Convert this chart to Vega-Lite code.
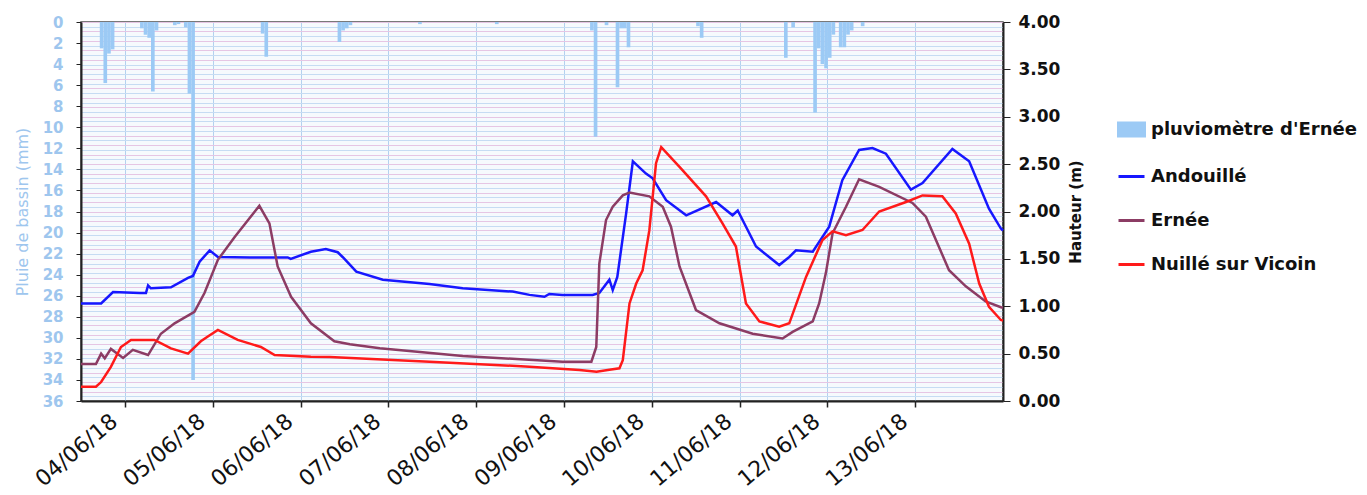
{
  "$schema": "https://vega.github.io/schema/vega-lite/v6.json",
  "width": 922,
  "height": 379,
  "autosize": {"type": "none"},
  "padding": {"left": 81, "top": 22, "right": 364, "bottom": 94},
  "background": "white",
  "config": {
    "view": {"stroke": "#4d4d4d", "strokeWidth": 1.5, "fill": "#f6fafd"},
    "font": "DejaVu Sans"
  },
  "datasets": {
    "rain": [
      {"t": "2018-06-03T17:00", "mm": 2.5}, {"t": "2018-06-03T18:00", "mm": 5.8}, {"t": "2018-06-03T19:00", "mm": 3.0}, {"t": "2018-06-03T20:00", "mm": 2.6},
      {"t": "2018-06-04T04:00", "mm": 0.6}, {"t": "2018-06-04T05:00", "mm": 1.2}, {"t": "2018-06-04T06:00", "mm": 1.5}, {"t": "2018-06-04T07:00", "mm": 6.6}, {"t": "2018-06-04T08:00", "mm": 0.8},
      {"t": "2018-06-04T13:00", "mm": 0.3}, {"t": "2018-06-04T14:00", "mm": 0.2},
      {"t": "2018-06-04T16:00", "mm": 0.5}, {"t": "2018-06-04T17:00", "mm": 6.8}, {"t": "2018-06-04T18:00", "mm": 34.0},
      {"t": "2018-06-05T13:00", "mm": 1.1}, {"t": "2018-06-05T14:00", "mm": 3.3},
      {"t": "2018-06-06T10:00", "mm": 1.9}, {"t": "2018-06-06T11:00", "mm": 0.8}, {"t": "2018-06-06T12:00", "mm": 0.6}, {"t": "2018-06-06T13:00", "mm": 0.3},
      {"t": "2018-06-07T08:00", "mm": 0.2}, {"t": "2018-06-08T05:00", "mm": 0.2},
      {"t": "2018-06-09T07:00", "mm": 0.8}, {"t": "2018-06-09T08:00", "mm": 10.9}, {"t": "2018-06-09T11:00", "mm": 0.3}, {"t": "2018-06-09T14:00", "mm": 6.2}, {"t": "2018-06-09T15:00", "mm": 0.6}, {"t": "2018-06-09T16:00", "mm": 0.6}, {"t": "2018-06-09T17:00", "mm": 2.4},
      {"t": "2018-06-10T12:00", "mm": 0.4}, {"t": "2018-06-10T13:00", "mm": 1.5},
      {"t": "2018-06-11T12:00", "mm": 3.4}, {"t": "2018-06-11T14:00", "mm": 0.5},
      {"t": "2018-06-11T20:00", "mm": 8.6}, {"t": "2018-06-11T21:00", "mm": 2.5}, {"t": "2018-06-11T22:00", "mm": 4.0}, {"t": "2018-06-11T23:00", "mm": 4.4}, {"t": "2018-06-12T00:00", "mm": 3.4}, {"t": "2018-06-12T01:00", "mm": 1.2},
      {"t": "2018-06-12T03:00", "mm": 2.4}, {"t": "2018-06-12T04:00", "mm": 2.4}, {"t": "2018-06-12T05:00", "mm": 1.2}, {"t": "2018-06-12T06:00", "mm": 0.8}, {"t": "2018-06-12T09:00", "mm": 0.4}
    ],
    "levels": [
      {"s": "Andouillé", "t": "2018-06-03T12:00", "h": 1.03},
      {"s": "Andouillé", "t": "2018-06-03T17:30", "h": 1.03},
      {"s": "Andouillé", "t": "2018-06-03T20:45", "h": 1.15},
      {"s": "Andouillé", "t": "2018-06-04T04:05", "h": 1.14},
      {"s": "Andouillé", "t": "2018-06-04T05:45", "h": 1.14},
      {"s": "Andouillé", "t": "2018-06-04T06:20", "h": 1.22},
      {"s": "Andouillé", "t": "2018-06-04T07:05", "h": 1.19},
      {"s": "Andouillé", "t": "2018-06-04T12:35", "h": 1.20},
      {"s": "Andouillé", "t": "2018-06-04T17:15", "h": 1.30},
      {"s": "Andouillé", "t": "2018-06-04T18:35", "h": 1.32},
      {"s": "Andouillé", "t": "2018-06-04T20:25", "h": 1.47},
      {"s": "Andouillé", "t": "2018-06-04T23:10", "h": 1.59},
      {"s": "Andouillé", "t": "2018-06-05T01:25", "h": 1.52},
      {"s": "Andouillé", "t": "2018-06-05T10:10", "h": 1.515},
      {"s": "Andouillé", "t": "2018-06-05T20:30", "h": 1.515},
      {"s": "Andouillé", "t": "2018-06-05T21:20", "h": 1.50},
      {"s": "Andouillé", "t": "2018-06-06T02:50", "h": 1.575},
      {"s": "Andouillé", "t": "2018-06-06T06:55", "h": 1.605},
      {"s": "Andouillé", "t": "2018-06-06T10:10", "h": 1.57},
      {"s": "Andouillé", "t": "2018-06-06T11:30", "h": 1.52},
      {"s": "Andouillé", "t": "2018-06-06T15:15", "h": 1.365},
      {"s": "Andouillé", "t": "2018-06-06T22:30", "h": 1.28},
      {"s": "Andouillé", "t": "2018-06-07T11:15", "h": 1.235},
      {"s": "Andouillé", "t": "2018-06-07T20:20", "h": 1.19},
      {"s": "Andouillé", "t": "2018-06-08T10:00", "h": 1.155},
      {"s": "Andouillé", "t": "2018-06-08T14:35", "h": 1.12},
      {"s": "Andouillé", "t": "2018-06-08T18:40", "h": 1.10},
      {"s": "Andouillé", "t": "2018-06-08T20:00", "h": 1.13},
      {"s": "Andouillé", "t": "2018-06-08T23:35", "h": 1.12},
      {"s": "Andouillé", "t": "2018-06-09T07:50", "h": 1.12},
      {"s": "Andouillé", "t": "2018-06-09T09:40", "h": 1.14},
      {"s": "Andouillé", "t": "2018-06-09T12:25", "h": 1.28},
      {"s": "Andouillé", "t": "2018-06-09T13:20", "h": 1.17},
      {"s": "Andouillé", "t": "2018-06-09T14:35", "h": 1.31},
      {"s": "Andouillé", "t": "2018-06-09T17:00", "h": 1.98},
      {"s": "Andouillé", "t": "2018-06-09T18:50", "h": 2.53},
      {"s": "Andouillé", "t": "2018-06-09T22:25", "h": 2.40},
      {"s": "Andouillé", "t": "2018-06-10T00:15", "h": 2.35},
      {"s": "Andouillé", "t": "2018-06-10T03:55", "h": 2.12},
      {"s": "Andouillé", "t": "2018-06-10T09:25", "h": 1.96},
      {"s": "Andouillé", "t": "2018-06-10T17:35", "h": 2.10},
      {"s": "Andouillé", "t": "2018-06-10T22:05", "h": 1.96},
      {"s": "Andouillé", "t": "2018-06-10T23:30", "h": 2.01},
      {"s": "Andouillé", "t": "2018-06-11T04:30", "h": 1.63},
      {"s": "Andouillé", "t": "2018-06-11T10:50", "h": 1.435},
      {"s": "Andouillé", "t": "2018-06-11T13:35", "h": 1.52},
      {"s": "Andouillé", "t": "2018-06-11T15:25", "h": 1.59},
      {"s": "Andouillé", "t": "2018-06-11T20:00", "h": 1.575},
      {"s": "Andouillé", "t": "2018-06-12T00:30", "h": 1.84},
      {"s": "Andouillé", "t": "2018-06-12T04:05", "h": 2.33},
      {"s": "Andouillé", "t": "2018-06-12T08:40", "h": 2.65},
      {"s": "Andouillé", "t": "2018-06-12T12:20", "h": 2.67},
      {"s": "Andouillé", "t": "2018-06-12T16:00", "h": 2.61},
      {"s": "Andouillé", "t": "2018-06-12T22:50", "h": 2.23},
      {"s": "Andouillé", "t": "2018-06-13T02:00", "h": 2.30},
      {"s": "Andouillé", "t": "2018-06-13T10:10", "h": 2.66},
      {"s": "Andouillé", "t": "2018-06-13T14:45", "h": 2.53},
      {"s": "Andouillé", "t": "2018-06-13T20:10", "h": 2.03},
      {"s": "Andouillé", "t": "2018-06-13T23:25", "h": 1.82},
      {"s": "Andouillé", "t": "2018-06-14T00:00", "h": 1.80},
      {"s": "Ernée", "t": "2018-06-03T12:00", "h": 0.39},
      {"s": "Ernée", "t": "2018-06-03T16:05", "h": 0.39},
      {"s": "Ernée", "t": "2018-06-03T17:30", "h": 0.50},
      {"s": "Ernée", "t": "2018-06-03T18:30", "h": 0.45},
      {"s": "Ernée", "t": "2018-06-03T20:10", "h": 0.55},
      {"s": "Ernée", "t": "2018-06-03T23:30", "h": 0.455},
      {"s": "Ernée", "t": "2018-06-04T02:10", "h": 0.54},
      {"s": "Ernée", "t": "2018-06-04T06:20", "h": 0.485},
      {"s": "Ernée", "t": "2018-06-04T09:50", "h": 0.71},
      {"s": "Ernée", "t": "2018-06-04T13:35", "h": 0.82},
      {"s": "Ernée", "t": "2018-06-04T19:00", "h": 0.94},
      {"s": "Ernée", "t": "2018-06-04T21:45", "h": 1.14},
      {"s": "Ernée", "t": "2018-06-05T01:25", "h": 1.49},
      {"s": "Ernée", "t": "2018-06-05T06:00", "h": 1.73},
      {"s": "Ernée", "t": "2018-06-05T12:45", "h": 2.06},
      {"s": "Ernée", "t": "2018-06-05T15:30", "h": 1.875},
      {"s": "Ernée", "t": "2018-06-05T17:45", "h": 1.42},
      {"s": "Ernée", "t": "2018-06-05T21:25", "h": 1.10},
      {"s": "Ernée", "t": "2018-06-06T02:50", "h": 0.82},
      {"s": "Ernée", "t": "2018-06-06T09:15", "h": 0.63},
      {"s": "Ernée", "t": "2018-06-06T13:30", "h": 0.60},
      {"s": "Ernée", "t": "2018-06-06T21:40", "h": 0.556},
      {"s": "Ernée", "t": "2018-06-07T20:20", "h": 0.475},
      {"s": "Ernée", "t": "2018-06-08T23:35", "h": 0.415},
      {"s": "Ernée", "t": "2018-06-09T07:30", "h": 0.415},
      {"s": "Ernée", "t": "2018-06-09T08:50", "h": 0.57},
      {"s": "Ernée", "t": "2018-06-09T09:40", "h": 1.45},
      {"s": "Ernée", "t": "2018-06-09T11:30", "h": 1.91},
      {"s": "Ernée", "t": "2018-06-09T13:20", "h": 2.05},
      {"s": "Ernée", "t": "2018-06-09T16:05", "h": 2.17},
      {"s": "Ernée", "t": "2018-06-09T17:55", "h": 2.20},
      {"s": "Ernée", "t": "2018-06-09T23:20", "h": 2.16},
      {"s": "Ernée", "t": "2018-06-10T03:00", "h": 2.05},
      {"s": "Ernée", "t": "2018-06-10T05:15", "h": 1.84},
      {"s": "Ernée", "t": "2018-06-10T07:35", "h": 1.42},
      {"s": "Ernée", "t": "2018-06-10T12:05", "h": 0.96},
      {"s": "Ernée", "t": "2018-06-10T18:30", "h": 0.82},
      {"s": "Ernée", "t": "2018-06-11T03:35", "h": 0.71},
      {"s": "Ernée", "t": "2018-06-11T11:45", "h": 0.66},
      {"s": "Ernée", "t": "2018-06-11T14:30", "h": 0.73},
      {"s": "Ernée", "t": "2018-06-11T20:00", "h": 0.84},
      {"s": "Ernée", "t": "2018-06-11T21:45", "h": 1.03},
      {"s": "Ernée", "t": "2018-06-11T23:35", "h": 1.35},
      {"s": "Ernée", "t": "2018-06-12T01:25", "h": 1.77},
      {"s": "Ernée", "t": "2018-06-12T05:05", "h": 2.05},
      {"s": "Ernée", "t": "2018-06-12T08:40", "h": 2.34},
      {"s": "Ernée", "t": "2018-06-12T14:10", "h": 2.26},
      {"s": "Ernée", "t": "2018-06-12T23:15", "h": 2.09},
      {"s": "Ernée", "t": "2018-06-13T02:55", "h": 1.945},
      {"s": "Ernée", "t": "2018-06-13T09:15", "h": 1.38},
      {"s": "Ernée", "t": "2018-06-13T13:50", "h": 1.21},
      {"s": "Ernée", "t": "2018-06-13T19:15", "h": 1.05},
      {"s": "Ernée", "t": "2018-06-13T23:25", "h": 0.99},
      {"s": "Ernée", "t": "2018-06-14T00:00", "h": 0.985},
      {"s": "Nuillé sur Vicoin", "t": "2018-06-03T12:00", "h": 0.15},
      {"s": "Nuillé sur Vicoin", "t": "2018-06-03T16:05", "h": 0.15},
      {"s": "Nuillé sur Vicoin", "t": "2018-06-03T17:30", "h": 0.20},
      {"s": "Nuillé sur Vicoin", "t": "2018-06-03T20:10", "h": 0.36},
      {"s": "Nuillé sur Vicoin", "t": "2018-06-03T22:55", "h": 0.57},
      {"s": "Nuillé sur Vicoin", "t": "2018-06-04T01:40", "h": 0.645},
      {"s": "Nuillé sur Vicoin", "t": "2018-06-04T08:05", "h": 0.645},
      {"s": "Nuillé sur Vicoin", "t": "2018-06-04T12:35", "h": 0.556},
      {"s": "Nuillé sur Vicoin", "t": "2018-06-04T17:15", "h": 0.50},
      {"s": "Nuillé sur Vicoin", "t": "2018-06-04T20:45", "h": 0.63},
      {"s": "Nuillé sur Vicoin", "t": "2018-06-04T22:40", "h": 0.68},
      {"s": "Nuillé sur Vicoin", "t": "2018-06-05T01:25", "h": 0.75},
      {"s": "Nuillé sur Vicoin", "t": "2018-06-05T06:50", "h": 0.645},
      {"s": "Nuillé sur Vicoin", "t": "2018-06-05T13:10", "h": 0.57},
      {"s": "Nuillé sur Vicoin", "t": "2018-06-05T16:55", "h": 0.485},
      {"s": "Nuillé sur Vicoin", "t": "2018-06-06T02:50", "h": 0.468},
      {"s": "Nuillé sur Vicoin", "t": "2018-06-06T08:00", "h": 0.465},
      {"s": "Nuillé sur Vicoin", "t": "2018-06-07T11:15", "h": 0.415},
      {"s": "Nuillé sur Vicoin", "t": "2018-06-08T14:35", "h": 0.362},
      {"s": "Nuillé sur Vicoin", "t": "2018-06-09T04:15", "h": 0.327},
      {"s": "Nuillé sur Vicoin", "t": "2018-06-09T08:55", "h": 0.31},
      {"s": "Nuillé sur Vicoin", "t": "2018-06-09T12:25", "h": 0.33},
      {"s": "Nuillé sur Vicoin", "t": "2018-06-09T15:10", "h": 0.345},
      {"s": "Nuillé sur Vicoin", "t": "2018-06-09T16:05", "h": 0.43},
      {"s": "Nuillé sur Vicoin", "t": "2018-06-09T17:55", "h": 1.03},
      {"s": "Nuillé sur Vicoin", "t": "2018-06-09T19:45", "h": 1.24},
      {"s": "Nuillé sur Vicoin", "t": "2018-06-09T21:30", "h": 1.38},
      {"s": "Nuillé sur Vicoin", "t": "2018-06-09T23:20", "h": 1.80},
      {"s": "Nuillé sur Vicoin", "t": "2018-06-10T01:10", "h": 2.51},
      {"s": "Nuillé sur Vicoin", "t": "2018-06-10T02:35", "h": 2.68},
      {"s": "Nuillé sur Vicoin", "t": "2018-06-10T07:35", "h": 2.47},
      {"s": "Nuillé sur Vicoin", "t": "2018-06-10T14:50", "h": 2.16},
      {"s": "Nuillé sur Vicoin", "t": "2018-06-10T19:20", "h": 1.875},
      {"s": "Nuillé sur Vicoin", "t": "2018-06-10T23:00", "h": 1.63},
      {"s": "Nuillé sur Vicoin", "t": "2018-06-11T01:45", "h": 1.03},
      {"s": "Nuillé sur Vicoin", "t": "2018-06-11T05:25", "h": 0.84},
      {"s": "Nuillé sur Vicoin", "t": "2018-06-11T10:50", "h": 0.785},
      {"s": "Nuillé sur Vicoin", "t": "2018-06-11T13:35", "h": 0.82},
      {"s": "Nuillé sur Vicoin", "t": "2018-06-11T18:10", "h": 1.31},
      {"s": "Nuillé sur Vicoin", "t": "2018-06-11T22:40", "h": 1.70},
      {"s": "Nuillé sur Vicoin", "t": "2018-06-12T01:25", "h": 1.79},
      {"s": "Nuillé sur Vicoin", "t": "2018-06-12T05:05", "h": 1.75},
      {"s": "Nuillé sur Vicoin", "t": "2018-06-12T09:35", "h": 1.805},
      {"s": "Nuillé sur Vicoin", "t": "2018-06-12T14:10", "h": 2.00},
      {"s": "Nuillé sur Vicoin", "t": "2018-06-12T21:30", "h": 2.10},
      {"s": "Nuillé sur Vicoin", "t": "2018-06-13T02:00", "h": 2.17},
      {"s": "Nuillé sur Vicoin", "t": "2018-06-13T07:25", "h": 2.16},
      {"s": "Nuillé sur Vicoin", "t": "2018-06-13T11:05", "h": 1.98},
      {"s": "Nuillé sur Vicoin", "t": "2018-06-13T14:45", "h": 1.66},
      {"s": "Nuillé sur Vicoin", "t": "2018-06-13T17:30", "h": 1.24},
      {"s": "Nuillé sur Vicoin", "t": "2018-06-13T20:10", "h": 0.995},
      {"s": "Nuillé sur Vicoin", "t": "2018-06-13T23:25", "h": 0.855},
      {"s": "Nuillé sur Vicoin", "t": "2018-06-14T00:00", "h": 0.85}
    ]
  },
  "layer": [
    {
      "data": {"name": "rain"},
      "mark": {"type": "rect"},
      "encoding": {
        "x": {
          "field": "t", "type": "temporal", "timeUnit": "yearmonthdatehours",
          "scale": {"domain": [{"year": 2018, "month": 6, "date": 3, "hours": 12}, {"year": 2018, "month": 6, "date": 14}]},
          "axis": {
            "title": null,
            "values": [
              {"year": 2018, "month": 6, "date": 4}, {"year": 2018, "month": 6, "date": 5}, {"year": 2018, "month": 6, "date": 6},
              {"year": 2018, "month": 6, "date": 7}, {"year": 2018, "month": 6, "date": 8}, {"year": 2018, "month": 6, "date": 9},
              {"year": 2018, "month": 6, "date": 10}, {"year": 2018, "month": 6, "date": 11}, {"year": 2018, "month": 6, "date": 12},
              {"year": 2018, "month": 6, "date": 13}
            ],
            "format": "%d/%m/%y",
            "labelAngle": -40,
            "labelAlign": "right",
            "labelBaseline": "middle",
            "labelFont": "DejaVu Sans",
            "labelFontSize": 22,
            "labelColor": "#111111",
            "labelPadding": 11,
            "labelOffset": -11,
            "labelOverlap": false,
            "tickColor": "#222222",
            "tickSize": 6,
            "tickWidth": 1.5,
            "domainColor": "#222222",
            "domainWidth": 2,
            "grid": true,
            "gridColor": "#b3d1ef",
            "gridWidth": 1
          }
        },
        "y": {
          "field": "mm", "type": "quantitative",
          "scale": {"domain": [0, 36], "reverse": true, "nice": false, "zero": true},
          "axis": {
            "orient": "left",
            "title": "Pluie de bassin (mm)",
            "titleFont": "DejaVu Sans",
            "titleFontSize": 16,
            "titleFontWeight": "normal",
            "titleColor": "#9ec6ee",
            "titlePadding": 12,
            "values": [0, 2, 4, 6, 8, 10, 12, 14, 16, 18, 20, 22, 24, 26, 28, 30, 32, 34, 36],
            "labelFont": "DejaVu Sans",
            "labelFontSize": 15,
            "labelFontWeight": "bold",
            "labelColor": "#9ec6ee",
            "labelPadding": 13,
            "labelOverlap": false,
            "tickColor": "#222222",
            "tickSize": 5,
            "domainColor": "#222222",
            "domainWidth": 2,
            "grid": false
          }
        },
        "y2": {"datum": 0},
        "color": {
          "datum": "pluviomètre d'Ernée", "type": "nominal", "title": null,
          "scale": {
            "domain": ["pluviomètre d'Ernée", "Andouillé", "Ernée", "Nuillé sur Vicoin"],
            "range": ["#9ccaf5", "#1717ff", "#8c3c64", "#ff1a1a"]
          },
          "legend": {
            "title": null,
            "orient": "none",
            "legendX": 1036,
            "legendY": 93,
            "padding": 0,
            "rowPadding": 20,
            "labelFont": "DejaVu Sans",
            "labelFontWeight": "bold",
            "labelFontSize": 18,
            "labelColor": "#111111",
            "labelOffset": 5,
            "labelLimit": 400,
            "symbolSize": 676,
            "symbolType": "stroke",
            "symbolStrokeWidth": 3,
            "encode": {
              "symbols": {
                "update": {
                  "shape": {"signal": "datum.index === 0 ? 'M-1,-0.5H1V0.5H-1Z' : 'M-1,0H1'"},
                  "fill": {"signal": "datum.index === 0 ? '#9ccaf5' : 'transparent'"},
                  "stroke": {"signal": "datum.index === 0 ? 'transparent' : (datum.index === 1 ? '#1717ff' : (datum.index === 2 ? '#8c3c64' : '#ff1a1a'))"},
                  "strokeWidth": {"value": 3},
                  "opacity": {"value": 1}
                }
              }
            }
          }
        }
      }
    },
    {
      "data": {"name": "levels"},
      "mark": {"type": "line", "strokeWidth": 2.5},
      "encoding": {
        "x": {"field": "t", "type": "temporal"},
        "y": {
          "field": "h", "type": "quantitative",
          "scale": {"domain": [0, 4], "nice": false},
          "axis": {
            "orient": "right",
            "title": "Hauteur (m)",
            "titleFont": "DejaVu Sans",
            "titleFontSize": 15,
            "titleFontWeight": "bold",
            "titleColor": "#111111",
            "titleAngle": 270,
            "titlePadding": 24,
            "values": [0, 0.05, 0.1, 0.15, 0.2, 0.25, 0.3, 0.35, 0.4, 0.45, 0.5, 0.55, 0.6, 0.65, 0.7, 0.75, 0.8, 0.85, 0.9, 0.95, 1, 1.05, 1.1, 1.15, 1.2, 1.25, 1.3, 1.35, 1.4, 1.45, 1.5, 1.55, 1.6, 1.65, 1.7, 1.75, 1.8, 1.85, 1.9, 1.95, 2, 2.05, 2.1, 2.15, 2.2, 2.25, 2.3, 2.35, 2.4, 2.45, 2.5, 2.55, 2.6, 2.65, 2.7, 2.75, 2.8, 2.85, 2.9, 2.95, 3, 3.05, 3.1, 3.15, 3.2, 3.25, 3.3, 3.35, 3.4, 3.45, 3.5, 3.55, 3.6, 3.65, 3.7, 3.75, 3.8, 3.85, 3.9, 3.95, 4],
            "labelExpr": "round(datum.value*100) % 50 === 0 ? format(datum.value, '.2f') : ''",
            "labelFont": "DejaVu Sans",
            "labelFontSize": 17,
            "labelFontWeight": "bold",
            "labelColor": "#111111",
            "labelPadding": 8,
            "labelOverlap": false,
            "tickColor": "#222222",
            "tickSize": 7,
            "tickOpacity": {"condition": {"test": "round(datum.value*100) % 50 === 0", "value": 1}, "value": 0},
            "domainColor": "#222222",
            "domainWidth": 2,
            "grid": true,
            "gridColor": {"condition": {"test": "round(datum.value*100) % 10 === 0", "value": "#e6c6e4"}, "value": "#c6dcf3"},
            "gridWidth": 1
          }
        },
        "color": {"field": "s", "type": "nominal", "title": null}
      }
    }
  ],
  "resolve": {"scale": {"y": "independent"}}
}
